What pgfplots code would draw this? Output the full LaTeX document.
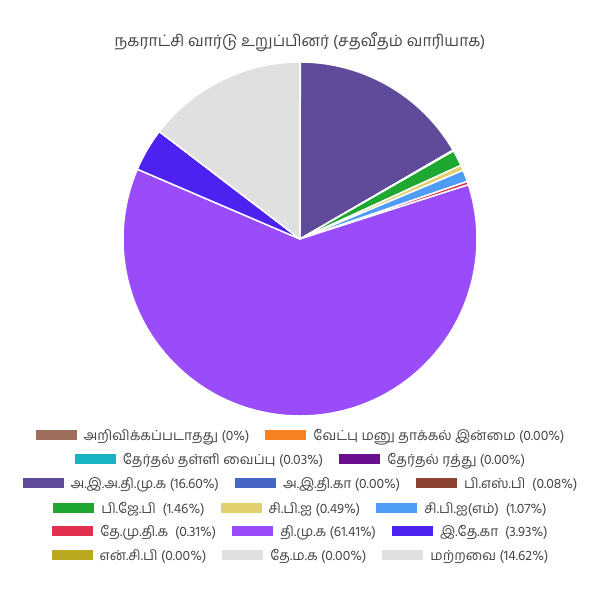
\documentclass[border=0pt]{standalone}
\usepackage{pgfplots}
\pgfplotsset{compat=1.18}
\usepackage{fontspec}
\setmainfont[Script=Tamil]{Hind Madurai}
\definecolor{cunk}{HTML}{9E6E5D}
\definecolor{cnom}{HTML}{F58220}
\definecolor{cpost}{HTML}{1AB3C2}
\definecolor{ccan}{HTML}{6B0F8F}
\definecolor{cadmk}{HTML}{5F4B99}
\definecolor{caitc}{HTML}{4565C7}
\definecolor{cbsp}{HTML}{8C4332}
\definecolor{cbjp}{HTML}{1FA831}
\definecolor{ccpi}{HTML}{E1D06C}
\definecolor{ccpim}{HTML}{4F9CF7}
\definecolor{cdmdk}{HTML}{E3304F}
\definecolor{cdmk}{HTML}{9A4CFB}
\definecolor{cinc}{HTML}{4D21F0}
\definecolor{cncp}{HTML}{BAA91F}
\definecolor{ctmc}{HTML}{E0E0E0}
\definecolor{coth}{HTML}{E0E0E0}
\definecolor{txt}{HTML}{444444}
\newcommand{\sw}[1]{\textcolor{#1}{\rule[0.5pt]{30.75pt}{7.5pt}}\hspace{5.3pt}}
\newcommand{\gap}{\hspace{12pt}}
% slice percentages in drawing order (clockwise from 12 o'clock)
% postponed 0.03, ADMK 16.60, BSP 0.08, BJP 1.46, CPI 0.49, CPI(M) 1.07,
% DMDK 0.31, DMK 61.41, INC 3.93, others 14.62 (zero shares omitted)
\newcommand{\slice}[3]{% #1 start %, #2 share %, #3 colour
  \addplot[fill=#3, draw=white, line width=1.1pt, line join=round,
    domain={90-3.6*(#1+#2)}:{90-3.6*(#1)}, samples=120]
    ({cos(x)},{sin(x)}) -- (axis cs:0,0) -- cycle;}
\begin{document}
\begin{tikzpicture}
\path[use as bounding box] (0pt,0pt) rectangle (450pt,450pt);
\begin{axis}[at={(225pt,270.75pt)}, anchor=center, scale only axis,
  width=265.5pt, height=265.5pt, hide axis,
  xmin=-1, xmax=1, ymin=-1, ymax=1, clip=false]
\slice{0}{0.03}{cpost}
\slice{0.03}{16.60}{cadmk}
\slice{16.63}{0.08}{cbsp}
\slice{16.71}{1.46}{cbjp}
\slice{18.17}{0.49}{ccpi}
\slice{18.66}{1.07}{ccpim}
\slice{19.73}{0.31}{cdmdk}
\slice{20.04}{61.41}{cdmk}
\slice{81.45}{3.93}{cinc}
\slice{85.38}{14.62}{coth}
\end{axis}
\node[text=txt, font=\fontsize{11.8pt}{13pt}\selectfont] at (225pt,418.5pt) {நகராட்சி வார்டு உறுப்பினர் (சதவீதம் வாரியாக)};
\begin{scope}[every node/.style={text=txt, font=\fontsize{10.4pt}{12pt}\selectfont, inner sep=0pt}]
\node at (225pt,122.25pt) {\sw{cunk}அறிவிக்கப்படாதது (0\%)\gap\sw{cnom}வேட்பு மனு தாக்கல் இன்மை (0.00\%)};
\node at (225pt,104.25pt) {\sw{cpost}தேர்தல் தள்ளி வைப்பு (0.03\%)\gap\sw{ccan}தேர்தல் ரத்து (0.00\%)};
\node at (225pt,86.25pt) {\sw{cadmk}அ.இ.அ.தி.மு.க (16.60\%)\gap\sw{caitc}அ.இ.தி.கா (0.00\%)\gap\sw{cbsp}பி.எஸ்.பி ~(0.08\%)};
\node at (225pt,68.25pt) {\sw{cbjp}பி.ஜே.பி ~(1.46\%)\gap\sw{ccpi}சி.பி.ஐ (0.49\%)\gap\sw{ccpim}சி.பி.ஐ(எம்) ~(1.07\%)};
\node at (225pt,50.25pt) {\sw{cdmdk}தே.மு.தி.க ~(0.31\%)\gap\sw{cdmk}தி.மு.க (61.41\%)\gap\sw{cinc}இ.தே.கா ~(3.93\%)};
\node at (225pt,32.25pt) {\sw{cncp}என்.சி.பி (0.00\%)\gap\sw{ctmc}தே.ம.க (0.00\%)\gap\sw{coth}மற்றவை (14.62\%)};
\end{scope}
\end{tikzpicture}
\end{document}
